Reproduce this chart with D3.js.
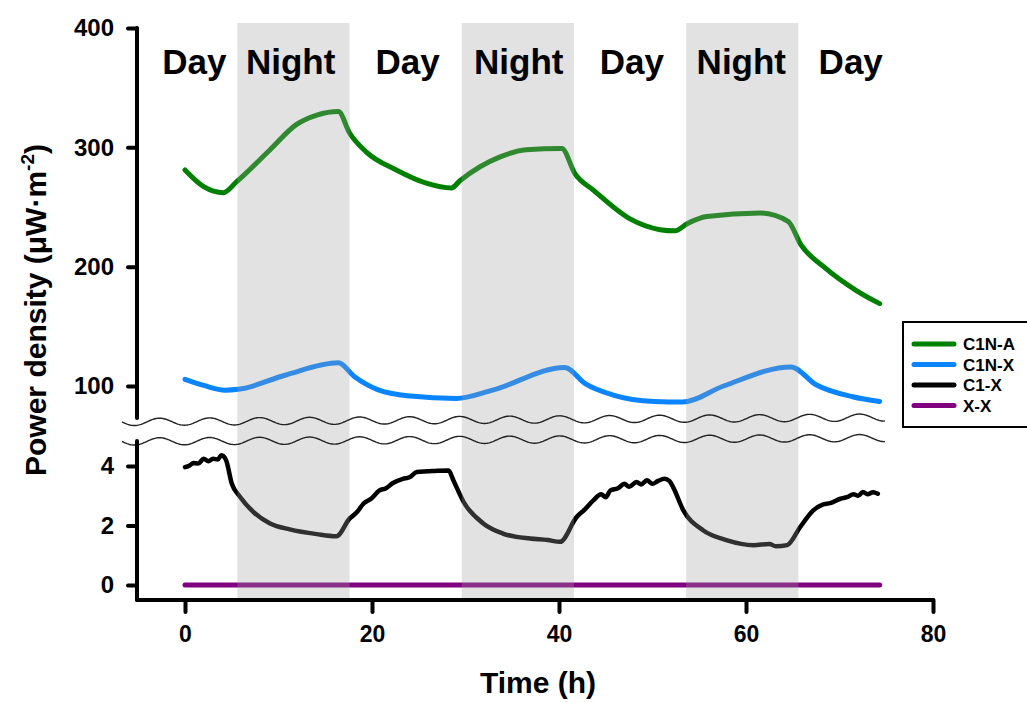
<!DOCTYPE html>
<html><head><meta charset="utf-8">
<script src="https://cdn.jsdelivr.net/npm/d3@7"></script>
<style>
body{margin:0;background:#fff}
text{font-family:Arial,"Liberation Sans",sans-serif;font-weight:bold;fill:#000}
</style>
</head><body>
<svg id="c" width="1027" height="702"></svg>
<script>
// ---- data ----
const xTicks=[0,20,40,60,80];
const yUpperTicks=[100,200,300,400];
const yLowerTicks=[0,2,4];
const nightStarts=[5.6,29.6,53.6];
const nightLength=12;
const periodLabels=["Day","Night","Day","Night","Day","Night","Day"];
const periodLabelHours=[1.0,11.3,23.8,35.7,47.8,59.5,71.2];
const seriesNames=["C1N-A","C1N-X","C1-X","X-X"];
const seriesColors=["#008000","#0A84FF","#000000","#800080"];

const c1nA=[[0,281],[2.0,267],[4.1,262],[5.5,271],[9.1,298],[11.9,319],[14.1,327],[16.4,330],[17.6,312],[19.4,296],[22.6,281],[25.8,270],[28.5,266],[29.4,272],[33.7,292],[36.5,298],[40.3,299],[41.7,278],[43.7,264],[47.6,240],[50.8,231],[52.4,230],[53.7,236],[55.8,242],[61.5,245],[64.5,238],[65.9,218],[68.3,200],[71.8,180],[74.3,169]];
const c1nX=[[0,105.6],[2,100.5],[4.3,96.5],[5.7,97.2],[10.7,109],[16.4,119.4],[18.1,108],[20.6,97],[24.1,91.6],[29,89.6],[32.9,96.6],[40.6,115.6],[42.8,102],[45.8,92.4],[50.2,87],[53.2,86.5],[57.6,100],[64.8,116],[67.5,101],[71.4,91],[74.3,87]];
const c1X=[[0,3.96],[0.5,4.02],[0.9,4.1],[1.4,4.08],[2.0,4.24],[2.5,4.16],[3.0,4.24],[3.5,4.22],[3.9,4.36],[4.4,4.19],[5.0,3.41],[5.9,2.96],[7.3,2.46],[9.1,2.07],[11.2,1.87],[14.1,1.71],[16.2,1.64],[17.6,2.23],[18.4,2.45],[19.1,2.74],[19.9,2.9],[20.8,3.18],[21.5,3.25],[22.2,3.42],[23.3,3.57],[24.0,3.62],[24.8,3.80],[26.0,3.82],[27.0,3.84],[28.2,3.85],[28.7,3.52],[29.8,2.79],[31.9,2.07],[34.0,1.73],[36.9,1.56],[38.8,1.51],[40.1,1.45],[41.9,2.29],[42.8,2.55],[43.7,2.85],[44.5,3.05],[45.0,2.95],[45.5,3.18],[46.3,3.25],[47.0,3.4],[47.5,3.3],[48.3,3.46],[48.8,3.38],[49.4,3.52],[50.0,3.4],[50.6,3.5],[51.3,3.57],[51.8,3.5],[52.2,3.29],[53.3,2.51],[55.4,1.84],[57.9,1.51],[60.8,1.34],[62.5,1.38],[63.2,1.3],[64.4,1.34],[65.8,1.95],[67.2,2.51],[68.2,2.7],[69.0,2.75],[70.1,2.90],[70.8,2.95],[71.5,3.05],[72.0,3.0],[72.5,3.13],[73.0,3.05],[73.6,3.12],[74.1,3.07]];
const xX=[[0,0],[74.3,0]];

// ---- layout ----
const svg=d3.select("#c");
const x=d3.scaleLinear().domain([0,80]).range([185,933]);
const yU=d3.scaleLinear().domain([100,400]).range([386,28]);
const yL=d3.scaleLinear().domain([0,4]).range([585,466]);
const axisX=137, axisY=600;

// lines
const lineU=d3.line().x(d=>x(d[0])).y(d=>yU(d[1])).curve(d3.curveMonotoneX);
const lineL=d3.line().x(d=>x(d[0])).y(d=>yL(d[1])).curve(d3.curveMonotoneX);
const gL=svg.append("g");
gL.append("path").attr("d",lineU(c1nA)).attr("fill","none").attr("stroke",seriesColors[0]).attr("stroke-width",5).attr("stroke-linecap","round").attr("stroke-linejoin","round");
gL.append("path").attr("d",lineU(c1nX)).attr("fill","none").attr("stroke",seriesColors[1]).attr("stroke-width",5).attr("stroke-linecap","round").attr("stroke-linejoin","round");
gL.append("path").attr("d",lineL(c1X)).attr("fill","none").attr("stroke",seriesColors[2]).attr("stroke-width",4.5).attr("stroke-linecap","round").attr("stroke-linejoin","round");
gL.append("path").attr("d",lineL(xX)).attr("fill","none").attr("stroke",seriesColors[3]).attr("stroke-width",5).attr("stroke-linecap","round");

// night bands (semi-transparent on top)
svg.append("g").selectAll("rect").data(nightStarts).join("rect")
  .attr("x",d=>x(d)).attr("width",d=>x(d+nightLength)-x(d))
  .attr("y",23).attr("height",axisY-23)
  .attr("fill","rgb(160,160,160)").attr("fill-opacity",0.3);

// period labels
svg.append("g").selectAll("text").data(periodLabels).join("text")
  .attr("x",(d,i)=>x(periodLabelHours[i])).attr("y",74)
  .attr("text-anchor","middle").style("font-size","35px").text(d=>d);

// wavy break lines
function wave(y0,y1){
  const pts=[];
  for(let px=122;px<=885;px+=1){
    const yc=y0+(y1-y0)*(px-122)/(885-122);
    pts.push([px,yc+3.6*Math.sin((px-122)/50*2*Math.PI)]);
  }
  return d3.line()(pts);
}
svg.append("path").attr("d",wave(422,417.5)).attr("fill","none").attr("stroke","#222").attr("stroke-width",1.4);
svg.append("path").attr("d",wave(441.5,438)).attr("fill","none").attr("stroke","#222").attr("stroke-width",1.4);

// axes lines
const ax=svg.append("g").attr("stroke","#000").attr("stroke-width",4).attr("stroke-linecap","round");
ax.append("line").attr("x1",axisX).attr("x2",axisX).attr("y1",yU(400)).attr("y2",418);
ax.append("line").attr("x1",axisX).attr("x2",axisX).attr("y1",441).attr("y2",axisY);
ax.append("line").attr("x1",axisX).attr("x2",x(80)).attr("y1",axisY).attr("y2",axisY);

// y axes
function styleAxis(size){
  return g=>{
    g.select(".domain").remove();
    g.selectAll(".tick line").attr("stroke","#000").attr("stroke-width",4).attr("stroke-linecap","round");
    g.selectAll(".tick text").attr("fill","#000").style("font-size",size).style("font-weight","bold").style("font-family","Arial, 'Liberation Sans', sans-serif");
  };
}
svg.append("g").attr("transform",`translate(${axisX},0)`)
  .call(d3.axisLeft(yU).tickValues(yUpperTicks).tickSize(9).tickPadding(14).tickFormat(d3.format("d")))
  .call(styleAxis("24px"));
svg.append("g").attr("transform",`translate(${axisX},0)`)
  .call(d3.axisLeft(yL).tickValues(yLowerTicks).tickSize(9).tickPadding(14).tickFormat(d3.format("d")))
  .call(styleAxis("24px"));
svg.append("g").attr("transform",`translate(0,${axisY})`)
  .call(d3.axisBottom(x).tickValues(xTicks).tickSize(12).tickPadding(14).tickFormat(d3.format("d")))
  .call(styleAxis("23px"));

// axis titles
svg.append("text").attr("x",538).attr("y",693).attr("text-anchor","middle").style("font-size","30px").text("Time (h)");
const yt=svg.append("text").attr("transform","translate(46,310) rotate(-90)").attr("text-anchor","middle").style("font-size","30px");
yt.append("tspan").text("Power density (μW·m");
yt.append("tspan").attr("dy",-12).style("font-size","19px").text("-2");
yt.append("tspan").attr("dy",12).text(")");

// legend
const lg=svg.append("g");
lg.append("rect").attr("x",903).attr("y",322).attr("width",140).attr("height",105).attr("fill","#fff").attr("stroke","#000").attr("stroke-width",2);
seriesNames.forEach((n,i)=>{
  const yy=344+i*20.5;
  lg.append("line").attr("x1",914).attr("x2",954).attr("y1",yy).attr("y2",yy).attr("stroke",seriesColors[i]).attr("stroke-width",5).attr("stroke-linecap","round");
  lg.append("text").attr("x",963).attr("y",yy+6).style("font-size","17px").text(n);
});
</script>
</body></html>
